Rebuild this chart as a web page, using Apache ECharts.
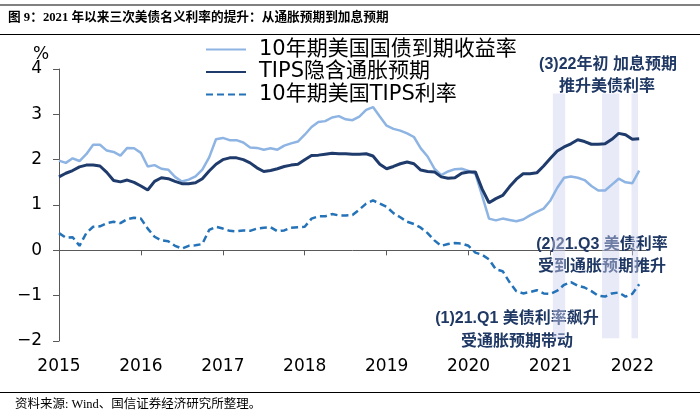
<!DOCTYPE html>
<html><head><meta charset="utf-8">
<script src="https://cdn.jsdelivr.net/npm/echarts@6/dist/echarts.min.js"></script>
<style>html,body{margin:0;padding:0;background:#fff}#c{width:700px;height:419px}</style>
</head><body><div id="c"></div>
<script>
const months = [
 '2015-01','2015-02','2015-03','2015-04','2015-05','2015-06','2015-07','2015-08','2015-09','2015-10','2015-11','2015-12',
 '2016-01','2016-02','2016-03','2016-04','2016-05','2016-06','2016-07','2016-08','2016-09','2016-10','2016-11','2016-12',
 '2017-01','2017-02','2017-03','2017-04','2017-05','2017-06','2017-07','2017-08','2017-09','2017-10','2017-11','2017-12',
 '2018-01','2018-02','2018-03','2018-04','2018-05','2018-06','2018-07','2018-08','2018-09','2018-10','2018-11','2018-12',
 '2019-01','2019-02','2019-03','2019-04','2019-05','2019-06','2019-07','2019-08','2019-09','2019-10','2019-11','2019-12',
 '2020-01','2020-02','2020-03','2020-04','2020-05','2020-06','2020-07','2020-08','2020-09','2020-10','2020-11','2020-12',
 '2021-01','2021-02','2021-03','2021-04','2021-05','2021-06','2021-07','2021-08','2021-09','2021-10','2021-11','2021-12',
 '2022-01','2022-02'
];
const nominal10y = [
 1.98,1.93,2.03,1.97,2.12,2.33,2.33,2.20,2.17,2.09,2.26,2.25,
 2.15,1.85,1.88,1.80,1.78,1.62,1.52,1.56,1.63,1.78,2.05,2.45,
 2.48,2.43,2.43,2.38,2.27,2.26,2.22,2.25,2.22,2.31,2.36,2.40,
 2.55,2.72,2.83,2.85,2.93,2.96,2.89,2.87,2.95,3.10,3.16,2.95,
 2.75,2.68,2.64,2.58,2.50,2.25,2.07,1.80,1.66,1.74,1.79,1.80,
 1.75,1.69,1.20,0.70,0.66,0.70,0.67,0.64,0.68,0.77,0.85,0.92,
 1.10,1.38,1.60,1.63,1.60,1.55,1.42,1.32,1.32,1.45,1.58,1.50,
 1.48,1.76
];
const breakeven = [
 1.62,1.70,1.76,1.84,1.88,1.88,1.86,1.72,1.54,1.51,1.55,1.50,
 1.42,1.33,1.52,1.60,1.58,1.52,1.47,1.47,1.49,1.58,1.75,1.90,
 2.00,2.04,2.04,2.00,1.93,1.82,1.74,1.76,1.80,1.85,1.88,1.90,
 2.00,2.09,2.10,2.12,2.14,2.13,2.13,2.12,2.12,2.13,2.08,1.90,
 1.80,1.85,1.91,1.95,1.91,1.77,1.74,1.73,1.62,1.59,1.60,1.70,
 1.73,1.73,1.35,1.05,1.14,1.21,1.40,1.57,1.69,1.69,1.71,1.86,
 2.03,2.19,2.28,2.35,2.44,2.40,2.34,2.34,2.35,2.45,2.58,2.55,
 2.45,2.46
];
const tipsReal = [
 0.38,0.28,0.29,0.10,0.38,0.52,0.53,0.60,0.63,0.60,0.69,0.72,
 0.70,0.48,0.30,0.22,0.20,0.10,0.04,0.10,0.11,0.14,0.45,0.52,
 0.48,0.43,0.42,0.44,0.43,0.48,0.50,0.51,0.42,0.44,0.50,0.51,
 0.52,0.70,0.75,0.75,0.80,0.77,0.77,0.78,0.90,1.03,1.10,1.03,
 0.96,0.82,0.73,0.63,0.58,0.50,0.38,0.22,0.10,0.14,0.16,0.15,
 0.10,-0.05,-0.10,-0.20,-0.42,-0.46,-0.70,-0.90,-0.95,-0.92,-0.88,-0.95,
 -0.96,-0.89,-0.76,-0.70,-0.78,-0.82,-0.90,-1.00,-1.02,-0.95,-0.93,-1.02,
 -0.96,-0.75
];
const seriesNames = ['10年期美国国债到期收益率','TIPS隐含通胀预期','10年期美国TIPS利率'];
const yearTicks = [2015,2016,2017,2018,2019,2020,2021,2022];
// shaded periods [start, end] as year fractions
const bands = [[2021.03,2021.18],[2021.63,2021.84],[2021.99,2022.07]];
const bandRange = [-1.94, 3.46];

const toX = s => +s.slice(0,4) + (+s.slice(5,7) - 1) / 12;
const mk = arr => months.map((m,i) => [toX(m), arr[i]]);

const latin = "'DejaVu Sans','Noto Sans CJK SC',sans-serif";
const annFont = "'Liberation Sans','Noto Sans CJK SC',sans-serif";
const navy = '#1F3864';

const chart = echarts.init(document.getElementById('c'), null, {renderer:'canvas'});
chart.setOption({
  animation: false,
  backgroundColor: '#fff',
  grid: {left: 59, right: 54, top: 69, bottom: 78, containLabel: false},
  legend: {
    data: seriesNames, orient: 'vertical', left: 205, top: 39, padding: 0,
    itemWidth: 40, itemHeight: 14, itemGap: 1.5,
    itemStyle: {opacity: 0},
    textStyle: {fontSize: 21, fontFamily: latin, color: '#000', padding: [0,0,0,8]}
  },
  xAxis: [
    {type: 'value', min: 2015, max: 2015 + months.length/12, position: 'bottom',
     axisLine: {onZero: true, lineStyle: {color: '#595959', width: 1}},
     axisTick: {show: true, inside: false, length: 5, customValues: yearTicks, lineStyle: {color: '#595959'}},
     axisLabel: {show: false}, splitLine: {show: false}},
    {type: 'value', min: 2015, max: 2015 + months.length/12, position: 'bottom',
     axisLine: {show: false, onZero: false}, axisTick: {show: false},
     axisLabel: {show: true, customValues: yearTicks, margin: 17, fontSize: 17, fontFamily: latin, color: '#000',
       formatter: v => String(Math.round(v))},
     splitLine: {show: false}}
  ],
  yAxis: {
    type: 'value', min: -2, max: 4, interval: 1,
    axisLine: {show: true, lineStyle: {color: '#595959', width: 1}},
    axisTick: {show: true, length: 6, lineStyle: {color: '#595959'}},
    axisLabel: {margin: 17, fontSize: 17, fontFamily: latin, color: '#000',
      formatter: v => String(v).replace('-', '\u2212')},
    splitLine: {show: false}
  },
  series: [
    {name: seriesNames[0], type: 'line', data: mk(nominal10y), symbol: 'none', smooth: false,
     lineStyle: {color: '#8EB4E3', width: 2.5}, itemStyle: {color: '#8EB4E3'}, z: 2},
    {name: seriesNames[1], type: 'line', data: mk(breakeven), symbol: 'none',
     lineStyle: {color: '#1F3B6C', width: 3}, itemStyle: {color: '#1F3B6C'}, z: 3},
    {name: seriesNames[2], type: 'line', data: mk(tipsReal), symbol: 'none',
     lineStyle: {color: '#2472B8', width: 2.5, type: [7,4]}, itemStyle: {color: '#2472B8'}, z: 3},
    {name: 'bands', type: 'line', data: [], z: 10, silent: true,
     markArea: {silent: true, itemStyle: {color: 'rgba(204,208,240,0.45)'},
       data: bands.map(b => [{coord: [b[0], bandRange[1]]}, {coord: [b[1], bandRange[0]]}])}}
  ],
  graphic: [
    {type: 'line', z: 1, shape: {x1: 0, y1: 5, x2: 700, y2: 5}, style: {stroke: '#808080', lineWidth: 2}},
    {type: 'text', z: 1, x: 8, y: 18, style: {text: '图 9：2021 年以来三次美债名义利率的提升：从通胀预期到加息预期',
      font: "bold 12.7px 'Liberation Serif','Noto Sans CJK SC',serif", fill: '#000', verticalAlign: 'middle'}},
    {type: 'line', z: 1, shape: {x1: 0, y1: 34.5, x2: 700, y2: 34.5}, style: {stroke: '#000', lineWidth: 1}},
    {type: 'text', z: 1, x: 33, y: 55, style: {text: '%', font: "17px 'DejaVu Sans',sans-serif", fill: '#000', verticalAlign: 'middle'}},
    {type: 'text', z: 1, x: 608, y: 65, style: {text: '(3)22年初 加息预期', font: 'bold 16px ' + annFont, fill: navy, align: 'center', verticalAlign: 'middle'}},
    {type: 'text', z: 1, x: 607, y: 87, style: {text: '推升美债利率', font: 'bold 16px ' + annFont, fill: navy, align: 'center', verticalAlign: 'middle'}},
    {type: 'text', z: 1, x: 602, y: 245, style: {text: '(2)21.Q3 美债利率', font: 'bold 16px ' + annFont, fill: navy, align: 'center', verticalAlign: 'middle'}},
    {type: 'text', z: 1, x: 602, y: 267, style: {text: '受到通胀预期推升', font: 'bold 16px ' + annFont, fill: navy, align: 'center', verticalAlign: 'middle'}},
    {type: 'text', z: 1, x: 517, y: 319, style: {text: '(1)21.Q1 美债利率飙升', font: 'bold 16px ' + annFont, fill: navy, align: 'center', verticalAlign: 'middle'}},
    {type: 'text', z: 1, x: 517, y: 342, style: {text: '受通胀预期带动', font: 'bold 16px ' + annFont, fill: navy, align: 'center', verticalAlign: 'middle'}},
    {type: 'line', z: 1, shape: {x1: 0, y1: 392.5, x2: 700, y2: 392.5}, style: {stroke: '#000', lineWidth: 1}},
    {type: 'text', z: 1, x: 15, y: 405, style: {text: '资料来源: Wind、国信证券经济研究所整理。',
      font: "12.5px 'Liberation Serif','Noto Sans CJK SC',serif", fill: '#000', verticalAlign: 'middle'}}
  ]
});
</script>
</body></html>
